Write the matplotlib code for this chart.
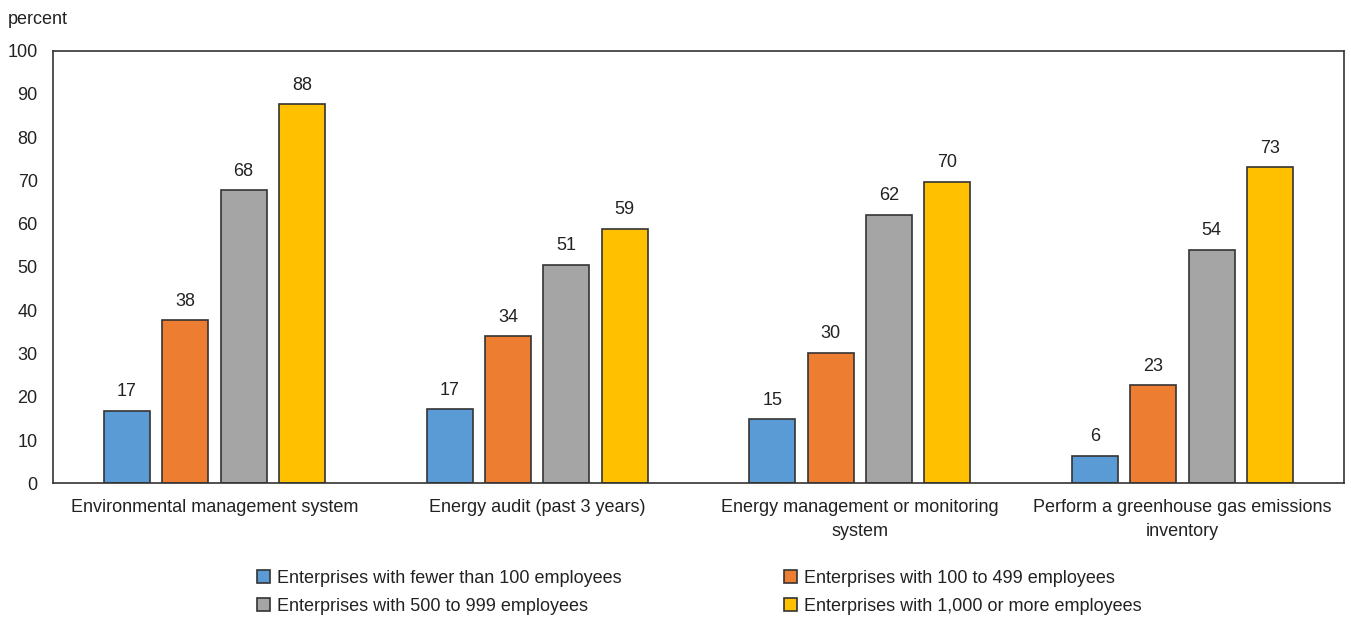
import matplotlib
matplotlib.use("Agg")
import matplotlib.pyplot as plt
from matplotlib import font_manager
import numpy as np

names = {f.name for f in font_manager.fontManager.ttflist}
fam = ['Liberation Sans Narrow', 'DejaVu Sans'] if 'Liberation Sans Narrow' in names else ['Liberation Sans', 'DejaVu Sans']
plt.rcParams['font.family'] = fam

categories = ["Environmental management system", "Energy audit (past 3 years)",
              "Energy management or monitoring\nsystem", "Perform a greenhouse gas emissions\ninventory"]
series_names = ["Enterprises with fewer than 100 employees", "Enterprises with 100 to 499 employees",
                "Enterprises with 500 to 999 employees", "Enterprises with 1,000 or more employees"]
fewer_100 = [16.8, 17.1, 14.8, 6.4]
e100_499 = [37.7, 34.0, 30.2, 22.6]
e500_999 = [67.7, 50.5, 62.1, 54.0]
e1000_plus = [87.6, 58.8, 69.7, 73.0]
labels = [[17, 17, 15, 6], [38, 34, 30, 23], [68, 51, 62, 54], [88, 59, 70, 73]]
colors = ["#5b9bd5", "#ed7d31", "#a5a5a5", "#ffc000"]
yticks = [0, 10, 20, 30, 40, 50, 60, 70, 80, 90, 100]

fig = plt.figure(figsize=(13.51, 6.17), dpi=100)
ax = fig.add_axes([53/1351, 1 - 483.3/617, (1344-53)/1351, (483.3-50.5)/617])
x = np.arange(len(categories))
step = 0.1806
width = 0.1425
txt = '#222222'
for i, (vals, c) in enumerate(zip([fewer_100, e100_499, e500_999, e1000_plus], colors)):
    pos = x + (i - 1.5) * step
    bars = ax.bar(pos, vals, width, color=c, edgecolor='#333333', linewidth=1.2, label=series_names[i])
    for b, lab in zip(bars, labels[i]):
        ax.text(b.get_x() + b.get_width()/2, b.get_height() + 2.4, str(lab), ha='center', va='bottom',
                fontsize=13, color=txt)

ax.set_xlim(-0.5, 3.5)
ax.set_ylim(0, 100)
ax.set_yticks(yticks)
ax.set_xticks(x)
ax.set_xticklabels(categories, fontsize=13, color=txt, linespacing=1.55)
ax.tick_params(axis='both', length=0, labelsize=13, colors=txt)
ax.tick_params(axis='x', pad=11)
ax.tick_params(axis='y', pad=11)
for s in ax.spines.values():
    s.set_color('#333333')
    s.set_linewidth(1.2)
fig.text(8/1351, 1 - 19/617, "percent", fontsize=13, color=txt, va='center', ha='left')

handles, labs = ax.get_legend_handles_labels()
order = [0, 2, 1, 3]
leg = fig.legend([handles[k] for k in order], [labs[k] for k in order], ncol=2, loc='center',
                 bbox_to_anchor=(0.5175, 1 - 592.5/617), frameon=False, fontsize=13,
                 handlelength=0.7, handleheight=0.7, handletextpad=0.4, columnspacing=9,
                 labelspacing=0.6, labelcolor=txt)
fig.savefig("out.png", dpi=100)
